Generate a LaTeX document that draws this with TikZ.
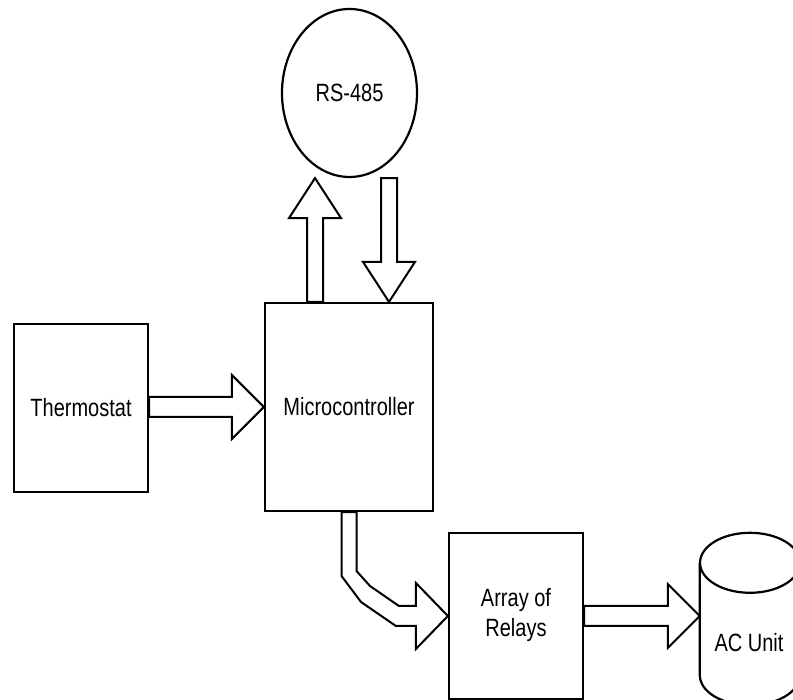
\documentclass[tikz,border=0pt]{standalone}
\usepackage{fontspec}
\setmainfont{Liberation Sans}
\usepackage{graphicx}
\usetikzlibrary{calc,positioning,shapes.geometric}

\newcommand{\tall}[1]{\scalebox{1}[1.25]{#1}}
% wide hollow arrow pointing right, from #1 to the tip #2
\newcommand{\rightfat}[2]{%
  \path[fatline] let \p1=#1, \p2=#2 in
    (\x1,\y2+10pt) -- (\x2-32pt,\y2+10pt) -- (\x2-32pt,\y2+32pt) -- (\x2,\y2)
    -- (\x2-32pt,\y2-32pt) -- (\x2-32pt,\y2-10pt) -- (\x1,\y2-10pt) -- cycle;}
% wide hollow arrow, vertical; #3 is the signed head length
\newcommand{\vertfat}[3]{%
  \path[fatline] let \p1=#1, \p2=#2 in
    (\x2-8pt,\y1) -- ({\x2-8pt},{\y2-(#3)}) -- ({\x2-26pt},{\y2-(#3)}) -- (\x2,\y2)
    -- ({\x2+26pt},{\y2-(#3)}) -- ({\x2+8pt},{\y2-(#3)}) -- (\x2+8pt,\y1) -- cycle;}

\begin{document}
\begin{tikzpicture}[x=1pt, y=1pt,
    every node/.style={font=\fontsize{20}{24}\selectfont},
    blockbox/.style={draw, line width=2.2pt, minimum width=134pt, minimum height=168pt, inner sep=0pt, align=center},
    fatline/.style={draw, line width=2pt, fill=white, line join=miter}]
  \clip (0,0) rectangle (793,700);
  \fill[white] (0,0) rectangle (793,700);

  \node[blockbox] (therm) at (81,292) {\tall{Thermostat}};
  \node[blockbox, minimum width=168pt, minimum height=208pt] (micro) at (349,293) {\tall{Microcontroller}};
  \node[draw, ellipse, line width=2.2pt, minimum width=135pt, minimum height=168pt, inner sep=0pt] (rs) at (349.5,607) {\tall{RS-485}};
  \node[blockbox, minimum height=166pt] (relays) at (516,84) {\tall{\begin{tabular}{@{}c@{}}Array of\\Relays\end{tabular}}};

  % AC unit cylinder
  \node[inner sep=0pt, minimum width=100pt, minimum height=172pt] (ac) at (750,81) {};
  \filldraw[fill=white, line width=2.2pt] ($(ac.north west)+(0,-30)$) -- ($(ac.south west)+(0,30)$)
    arc[start angle=180, end angle=360, x radius=50, y radius=30] -- ($(ac.north east)+(0,-30)$);
  \draw[line width=2.2pt] ($(ac.north)+(0,-30)$) ellipse [x radius=50, y radius=30];
  \node (aclabel) at (749,57) {\tall{AC Unit}};

  \coordinate (upfoot) at ($(micro.north)+(-34,0)$);
  \coordinate (uptip) at (upfoot |- rs.south);
  \coordinate (downfoot) at ($(micro.north)+(40,0)$);
  \coordinate (downtop) at (downfoot |- rs.south);
  \coordinate (actip) at (ac.west |- relays.east);

  \rightfat{(therm.east)}{(micro.west)}
  \vertfat{(upfoot)}{(uptip)}{40pt}
  \vertfat{(downtop)}{(downfoot)}{-40pt}
  \rightfat{(relays.east)}{(actip)}

  % bent arrow down to the relays
  \path[fatline] let \p1=(micro.south), \p2=(relays.west) in
    (\x1-7.5pt,\y1) -- (\x1-7.5pt,\y2+40pt) -- (\x1+12pt,\y2+14pt) -- (\x2-52pt,\y2-10pt)
    -- (\x2-32pt,\y2-10pt) -- (\x2-32pt,\y2-33pt) -- (\x2,\y2) -- (\x2-32pt,\y2+33pt)
    -- (\x2-32pt,\y2+10pt) -- (\x2-49pt,\y2+10pt) -- (\x1+21pt,\y2+30pt)
    -- (\x1+7.5pt,\y2+45pt) -- (\x1+7.5pt,\y1) -- cycle;
\end{tikzpicture}
\end{document}
